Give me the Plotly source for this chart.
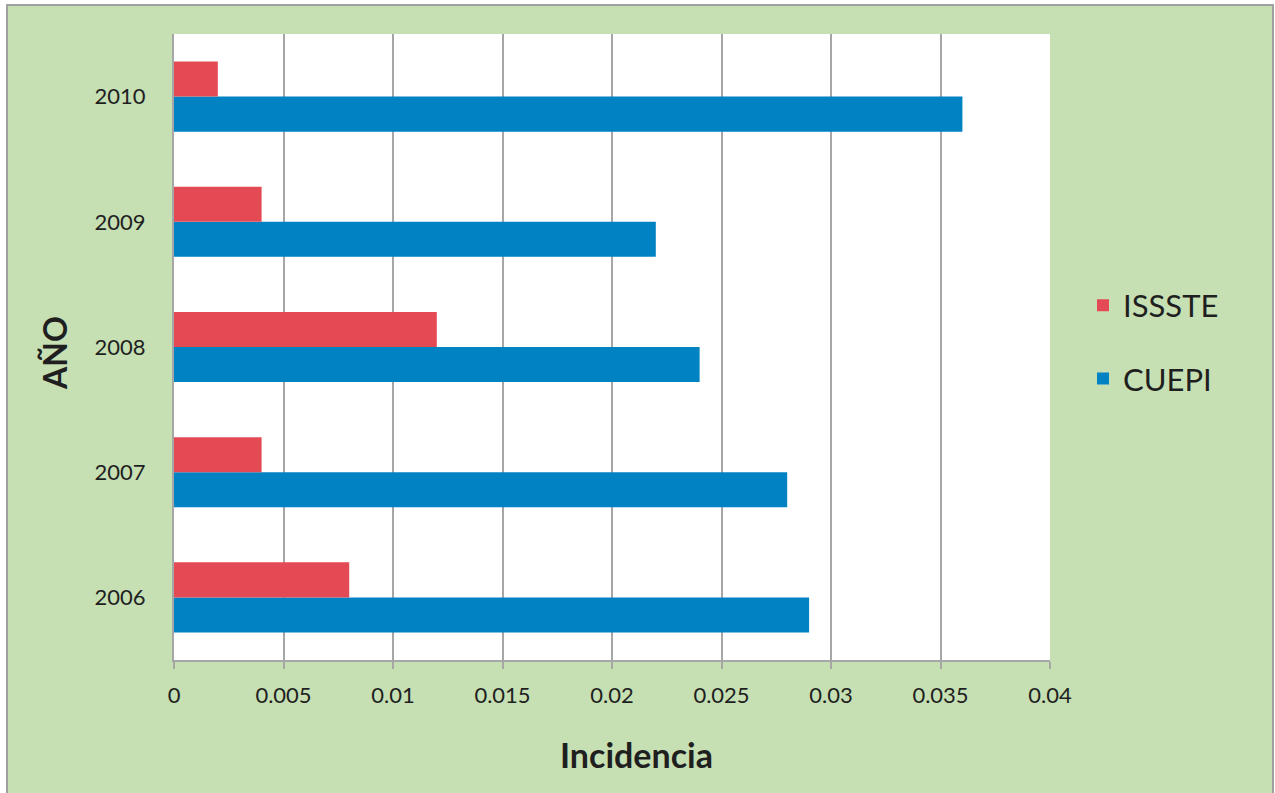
import plotly.graph_objects as go

years = ["2006", "2007", "2008", "2009", "2010"]
cuepi = [0.029, 0.028, 0.024, 0.022, 0.036]
issste = [0.008, 0.004, 0.012, 0.004, 0.002]
x_tickvals = [0, 0.005, 0.01, 0.015, 0.02, 0.025, 0.03, 0.035, 0.04]
x_ticktext = ["0", "0.005", "0.01", "0.015", "0.02", "0.025", "0.03", "0.035", "0.04"]

W, H = 1275, 793
L, R, T, B = 174, 225, 34, 133
pw, ph = W - L - R, H - T - B

def px2x(px):
    return (px - L) / pw

def px2y(py):
    return (H - B - py) / ph

fig = go.Figure()
fig.add_trace(go.Bar(y=years, x=cuepi, orientation="h", name="CUEPI",
                     marker=dict(color="#0082C3", line=dict(width=0)),
                     legendgroup="b", legendrank=2))
fig.add_trace(go.Bar(y=years, x=issste, orientation="h", name="ISSSTE",
                     marker=dict(color="#E44A54", line=dict(width=0)),
                     legendgroup="a", legendrank=1))

grid = "#A6A6A6"
fig.update_layout(
    width=W, height=H,
    margin=dict(l=L, r=R, t=T, b=B, autoexpand=False),
    paper_bgcolor="white",
    plot_bgcolor="rgba(0,0,0,0)",
    barmode="group",
    bargap=0.44,
    bargroupgap=0,
    font=dict(family="Lato, 'Open Sans', sans-serif", color="#1F1F1F"),
    xaxis=dict(range=[0, 0.04], tickvals=x_tickvals, ticktext=x_ticktext,
               showgrid=True, gridcolor=grid, gridwidth=2,
               showline=True, linecolor=grid, linewidth=2,
               ticks="outside", ticklen=7, tickcolor=grid, tickwidth=2,
               tickfont=dict(size=22), ticklabelstandoff=8, zeroline=False,
               fixedrange=True),
    yaxis=dict(showgrid=False, showline=True, linecolor=grid, linewidth=2,
               ticks="", tickfont=dict(size=22), ticklabelstandoff=22,
               fixedrange=True),
    legend=dict(x=px2x(1083), xanchor="left", y=px2y(342), yanchor="middle",
                traceorder="grouped", tracegroupgap=30,
                font=dict(size=31), bgcolor="rgba(0,0,0,0)"),
    shapes=[
        dict(type="rect", xref="paper", yref="paper", layer="below",
             x0=px2x(7), x1=px2x(1273), y0=px2y(5), y1=px2y(820),
             fillcolor="#C6E0B4", line=dict(color="#A0A0A0", width=2)),
        dict(type="rect", xref="paper", yref="paper", layer="below",
             x0=0, x1=1, y0=0, y1=1,
             fillcolor="white", line=dict(width=0)),
    ],
    annotations=[
        dict(text="<b>Incidencia</b>", xref="paper", yref="paper",
             x=px2x(636), y=px2y(754), xanchor="center", yanchor="middle",
             showarrow=False, font=dict(size=34, color="#1F1F1F")),
        dict(text="<b>AÑO</b>", xref="paper", yref="paper",
             x=px2x(54), y=px2y(353), xanchor="center", yanchor="middle",
             textangle=-90, showarrow=False, font=dict(size=32, color="#1F1F1F")),
    ],
)

fig.write_html("out.html")
